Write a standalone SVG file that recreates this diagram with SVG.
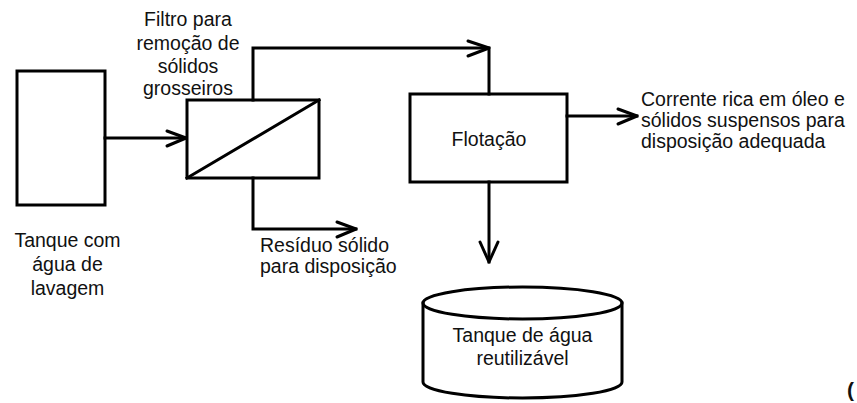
<svg xmlns="http://www.w3.org/2000/svg" width="857" height="403" viewBox="0 0 857 403">
<style>
.s{fill:none;stroke:#000;stroke-width:3;stroke-linejoin:miter;stroke-linecap:square}
.a{fill:none;stroke:#000;stroke-width:3;stroke-linecap:round;stroke-linejoin:round}
text{font-family:"Liberation Sans",Arial,sans-serif;font-size:19.5px;fill:#111}
.c{text-anchor:middle}
</style>
<rect width="857" height="403" fill="#fff"/>
<g id="tanque-lavagem">
<rect class="s" x="17" y="71" width="88" height="134"/>
<text class="c" x="67.5" y="247">Tanque com</text>
<text class="c" x="67.5" y="271">água de</text>
<text class="c" x="67.5" y="294.5">lavagem</text>
</g>
<g id="filtro">
<rect class="s" x="187" y="100" width="132" height="78"/>
<line class="s" x1="187" y1="178" x2="319" y2="100"/>
<text class="c" x="188" y="26">Filtro para</text>
<text class="c" x="188" y="49.5">remoção de</text>
<text class="c" x="188" y="72.5">sólidos</text>
<text class="c" x="188" y="95">grosseiros</text>
</g>
<g id="flotacao">
<rect class="s" x="410" y="94" width="157" height="88"/>
<text class="c" x="489" y="146">Flotação</text>
</g>
<g id="tanque-reutilizavel">
<path class="s" d="M423,303 L423,382 A99.5,16 0 0 0 622,382 L622,303"/>
<ellipse class="s" cx="522.5" cy="303" rx="99.5" ry="16"/>
<text class="c" x="522.5" y="342">Tanque de água</text>
<text class="c" x="522.5" y="365">reutilizável</text>
</g>
<g id="rotulo-residuo">
<text x="260" y="252">Resíduo sólido</text>
<text x="260" y="273">para disposição</text>
</g>
<g id="rotulo-corrente">
<text x="641" y="106">Corrente rica em óleo e</text>
<text x="641" y="127">sólidos suspensos para</text>
<text x="641" y="148">disposição adequada</text>
</g>
<g id="conectores">
<line class="s" x1="105" y1="138" x2="186" y2="138"/>
<polyline class="a" points="167,131 186,138 167,146"/>
<polyline class="s" points="253,100 253,48 489,48 489,94"/>
<polyline class="a" points="468,41 489,48 468,56"/>
<polyline class="s" points="253,178 253,229 356,229"/>
<polyline class="a" points="337,222 356,229 337,237"/>
<line class="s" x1="567" y1="116" x2="637" y2="116"/>
<polyline class="a" points="618,109 637,116 618,124"/>
<line class="s" x1="489" y1="182" x2="489" y2="262"/>
<polyline class="a" points="480,242 489,262 498,242"/>
</g>
<text x="847" y="397" style="font-size:21px;font-weight:bold">(</text>
</svg>
